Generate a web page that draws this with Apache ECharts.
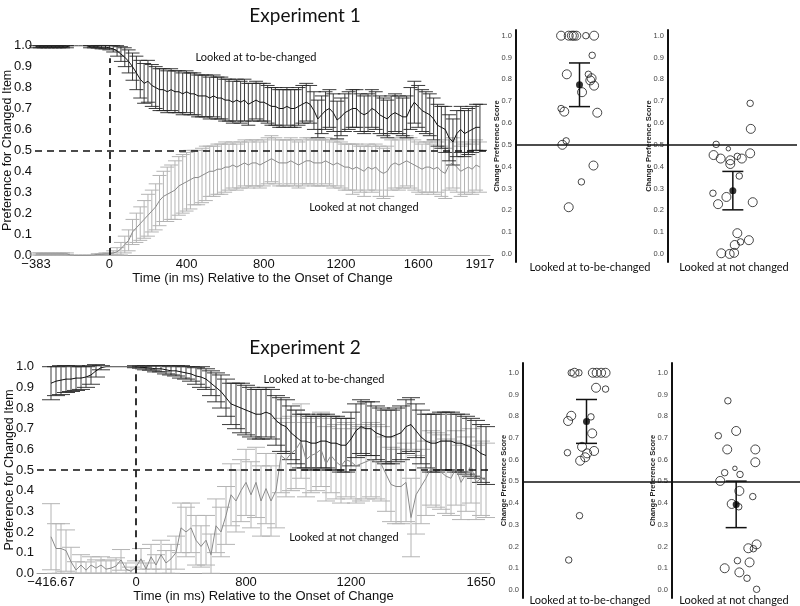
<!DOCTYPE html>
<html><head><meta charset="utf-8">
<script src="https://cdn.jsdelivr.net/npm/echarts@6/dist/echarts.min.js"></script>
<style>html,body{margin:0;padding:0;background:#fff}#c{width:800px;height:606px}</style>
</head><body><div id="c"></div>
<script>
// ---------- Experiment 1 time course (20 ms bins from -383 ms) ----------
const e1TickIdx = [0,19,39,59,79,99,115];
const e1TickText = ['\u2212383','0','400','800','1200','1600','1917'];
const e1BlackMean = [0.995,0.995,0.995,0.995,0.995,0.995,0.995,0.995,0.995,1,1,1,1,1,0.995,0.995,0.995,0.993,0.993,
 0.99,0.985,0.975,0.96,0.945,0.925,0.90,0.87,0.84,0.82,
 0.83,0.81,0.80,0.79,0.79,0.78,0.79,0.78,0.78,0.77,
 0.78,0.77,0.77,0.76,0.76,0.76,0.75,0.76,0.75,0.75,
 0.74,0.74,0.73,0.74,0.73,0.74,0.72,0.73,0.74,0.73,
 0.73,0.72,0.71,0.71,0.70,0.70,0.71,0.70,0.70,0.71,
 0.72,0.73,0.72,0.69,0.65,0.67,0.69,0.70,0.68,0.645,
 0.66,0.68,0.69,0.70,0.70,0.68,0.67,0.68,0.70,0.69,
 0.67,0.66,0.65,0.67,0.68,0.67,0.66,0.66,0.70,0.73,
 0.71,0.69,0.68,0.67,0.65,0.62,0.61,0.60,0.56,0.54,
 0.58,0.60,0.58,0.59,0.60,0.61,0.61];
const e1BlackErr = [0.005,0.005,0.005,0.005,0.005,0.005,0.005,0.005,0.005,0,0,0,0,0,0.005,0.005,0.006,0.008,0.008,
 0.01,0.015,0.025,0.035,0.045,0.055,0.065,0.08,0.09,0.095,
 0.10,0.10,0.10,0.10,0.10,0.10,0.10,0.10,0.10,0.10,
 0.10,0.10,0.10,0.10,0.10,0.10,0.10,0.10,0.10,0.10,
 0.10,0.10,0.10,0.10,0.10,0.10,0.10,0.09,0.09,0.09,
 0.09,0.09,0.09,0.09,0.09,0.09,0.09,0.09,0.09,0.09,
 0.09,0.09,0.09,0.09,0.09,0.09,0.09,0.09,0.09,0.09,
 0.09,0.09,0.09,0.09,0.09,0.09,0.09,0.09,0.09,0.09,
 0.09,0.09,0.09,0.09,0.09,0.09,0.09,0.10,0.10,0.10,
 0.10,0.10,0.10,0.10,0.10,0.10,0.10,0.11,0.11,0.11,
 0.11,0.11,0.11,0.11,0.11,0.11,0.11];
const e1GrayMean = [0.005,0.005,0.005,0.005,0.005,0.005,0.005,0.005,0.005,0,0,0,0,0,0,0,0.003,0.003,0.005,
 0.005,0.01,0.015,0.03,0.05,0.07,0.11,0.13,0.15,0.17,
 0.19,0.21,0.23,0.26,0.28,0.29,0.30,0.31,0.33,0.34,
 0.35,0.36,0.37,0.37,0.38,0.39,0.40,0.40,0.41,0.41,
 0.42,0.42,0.43,0.42,0.43,0.44,0.43,0.44,0.44,0.43,
 0.44,0.45,0.46,0.45,0.44,0.44,0.44,0.45,0.44,0.43,
 0.44,0.45,0.45,0.44,0.44,0.44,0.45,0.44,0.43,0.44,
 0.43,0.42,0.42,0.41,0.42,0.41,0.40,0.42,0.41,0.42,
 0.40,0.39,0.40,0.43,0.44,0.43,0.44,0.45,0.44,0.43,
 0.42,0.41,0.42,0.42,0.41,0.42,0.40,0.39,0.43,0.44,
 0.42,0.40,0.41,0.42,0.41,0.43,0.42];
const e1GrayErr = [0.005,0.005,0.005,0.005,0.005,0.005,0.005,0.005,0.005,0,0,0,0,0,0,0,0.003,0.003,0.005,
 0.005,0.01,0.02,0.03,0.04,0.05,0.06,0.07,0.08,0.09,
 0.10,0.10,0.11,0.12,0.12,0.13,0.13,0.14,0.14,0.14,
 0.14,0.14,0.13,0.13,0.13,0.13,0.12,0.12,0.12,0.12,
 0.12,0.11,0.11,0.11,0.11,0.11,0.11,0.11,0.11,0.11,
 0.11,0.11,0.11,0.11,0.11,0.11,0.11,0.11,0.11,0.11,
 0.11,0.11,0.11,0.11,0.11,0.11,0.11,0.11,0.11,0.11,
 0.11,0.11,0.11,0.12,0.11,0.11,0.12,0.11,0.11,0.11,
 0.12,0.12,0.12,0.12,0.12,0.12,0.12,0.12,0.12,0.12,
 0.12,0.12,0.12,0.12,0.12,0.12,0.12,0.12,0.12,0.12,
 0.12,0.12,0.12,0.12,0.12,0.12,0.12];

// ---------- Experiment 2 time course ----------
const e2TickIdx = [0,17,39,60,86];
const e2TickText = ['\u2212416.67','0','800','1200','1650'];
const e2BlackMean = [0.92,0.93,0.935,0.94,0.94,0.945,0.945,0.95,0.96,0.98,0.995,
 1,1,1,1,1,1,
 1.0,0.998,0.995,0.993,0.99,0.99,0.985,0.98,0.98,0.975,
 0.97,0.965,0.955,0.95,0.94,0.92,0.90,0.88,0.85,0.82,
 0.81,0.80,0.79,0.78,0.77,0.77,0.78,0.77,0.74,0.72,
 0.71,0.68,0.66,0.64,0.64,0.63,0.63,0.64,0.64,0.63,
 0.63,0.62,0.62,0.65,0.69,0.71,0.70,0.70,0.68,0.67,
 0.66,0.66,0.67,0.68,0.71,0.72,0.69,0.66,0.64,0.63,
 0.63,0.64,0.64,0.64,0.63,0.63,0.62,0.61,0.60,0.58,0.57];
const e2BlackErr = [0.08,0.07,0.07,0.065,0.06,0.06,0.055,0.05,0.045,0.03,0.01,
 0,0,0,0,0,0,
 0.005,0.005,0.01,0.01,0.015,0.015,0.02,0.02,0.025,0.03,
 0.03,0.035,0.04,0.05,0.05,0.06,0.07,0.08,0.09,0.10,
 0.11,0.12,0.12,0.12,0.12,0.12,0.12,0.12,0.12,0.13,
 0.13,0.13,0.13,0.13,0.13,0.13,0.13,0.13,0.13,0.13,
 0.13,0.13,0.13,0.13,0.13,0.13,0.13,0.13,0.13,0.13,
 0.13,0.13,0.13,0.13,0.13,0.13,0.13,0.13,0.13,0.14,
 0.14,0.14,0.14,0.14,0.14,0.14,0.14,0.14,0.14,0.14,0.14];
const e2GrayMean = [0.177,0.12,0.12,0.11,0.056,0.016,0.04,0.015,0.04,0.025,0.04,0.02,0.025,0.035,0.065,0.02,0.01,
 0.03,0.07,0.02,0.08,0.04,0.09,0.05,0.07,0.10,0.22,
 0.20,0.22,0.16,0.13,0.16,0.09,0.23,0.20,0.28,0.38,
 0.35,0.40,0.44,0.38,0.44,0.35,0.41,0.35,0.40,0.57,
 0.55,0.58,0.60,0.64,0.55,0.57,0.58,0.60,0.53,0.57,
 0.54,0.52,0.55,0.54,0.52,0.53,0.54,0.55,0.54,0.53,
 0.48,0.43,0.42,0.42,0.44,0.27,0.38,0.42,0.46,0.51,
 0.50,0.49,0.47,0.46,0.51,0.44,0.48,0.52,0.44,0.46,0.45];
const e2GrayErr = [0.16,0.12,0.12,0.10,0.07,0.04,0.05,0.04,0.04,0.04,0.04,0.04,0.04,0.04,0.05,0.03,0.02,
 0.03,0.05,0.03,0.06,0.05,0.07,0.06,0.07,0.08,0.12,
 0.12,0.12,0.12,0.10,0.12,0.10,0.13,0.12,0.14,0.15,
 0.15,0.15,0.16,0.16,0.17,0.17,0.17,0.17,0.18,0.18,
 0.18,0.18,0.19,0.18,0.18,0.18,0.18,0.18,0.18,0.18,
 0.18,0.18,0.18,0.18,0.18,0.18,0.18,0.18,0.18,0.18,
 0.18,0.18,0.18,0.18,0.19,0.19,0.19,0.18,0.18,0.18,
 0.18,0.18,0.18,0.18,0.18,0.18,0.18,0.18,0.18,0.18,0.18];

// ---------- Participant change preference scores (jitter = horizontal spread, weight = trial count class) ----------
const e1ChangedScore  = [1,1,1,1,1,1,1,0.91,0.823,0.823,0.805,0.795,0.771,0.741,0.666,0.652,0.647,0.518,0.50,0.405,0.33,0.214];
const e1ChangedJitter = [-0.29,-0.17,-0.12,-0.09,-0.05,0.10,0.23,0.20,-0.20,0.14,0.19,0.17,0.23,0.04,-0.29,-0.24,0.28,-0.21,-0.27,0.22,0.03,-0.17];
const e1ChangedWeight = [3,3,3,3,3,2,3,2,3,2,3,3,3,3,2,3,3,2,3,3,2,3];
const e1NotScore  = [0.69,0.573,0.502,0.482,0.453,0.437,0.429,0.412,0.447,0.437,0.461,0.357,0.278,0.261,0.228,0.237,0.095,0.063,0.055,0.041,0.003,0.0,0.005];
const e1NotJitter = [0.27,0.28,-0.26,-0.07,-0.30,-0.19,-0.04,-0.04,0.07,0.14,0.27,0.10,-0.31,-0.10,-0.23,0.31,0.07,0.25,0.12,0.03,-0.18,-0.05,0.02];
const e1NotWeight = [2,3,2,1,3,3,3,3,2,3,3,2,2,3,3,3,3,3,2,3,3,3,3];
const e2ChangedScore  = [1,1,1,1,1,1,1,0.931,0.925,0.802,0.778,0.797,0.721,0.659,0.632,0.64,0.629,0.611,0.595,0.342,0.138];
const e2ChangedJitter = [-0.24,-0.19,-0.12,0.10,0.16,0.23,0.30,0.15,0.30,-0.24,-0.29,0.07,0.09,-0.07,-0.30,0.12,0.01,-0.02,-0.10,-0.11,-0.28];
const e2ChangedWeight = [2,3,2,3,3,3,3,3,2,3,3,2,3,3,2,3,3,3,3,2,2];
const e2NotScore  = [0.871,0.71,0.732,0.647,0.647,0.588,0.56,0.54,0.532,0.502,0.456,0.43,0.396,0.383,0.21,0.192,0.19,0.135,0.127,0.10,0.081,0.054,0.003];
const e2NotJitter = [-0.13,-0.28,0.0,-0.14,0.30,0.30,-0.02,-0.18,0.06,-0.25,0.05,0.26,-0.07,0.04,0.32,0.19,0.27,0.02,0.21,-0.18,0.05,0.17,0.32];
const e2NotWeight = [2,2,3,3,3,3,1,2,2,3,3,2,3,2,3,3,2,2,3,3,3,2,2];
// group means and half-width of the error bars: [to-be-changed, not changed]
const e1GroupMean = [0.775, 0.29];
const e1GroupErr  = [0.10, 0.088];
const e2GroupMean = [0.776, 0.394];
const e2GroupErr  = [0.101, 0.107];

// ---------- helpers ----------
const SANS = 'Liberation Sans';
const CAL = 'Lato';
const sizeOf = {1: 4.5, 2: 6.5, 3: 9};
function errData(mean, err){ return mean.map((v,i)=>[i, v, err[i]]); }
function lineData(mean){ return mean.map((v,i)=>[i, v]); }
function errRender(capW, color, lw){
  return function(params, api){
    const x = api.value(0), m = api.value(1), e = api.value(2);
    if (!(e > 0)) return null;
    const hi = api.coord([x, m + e]);
    const lo = api.coord([x, Math.max(0, m - e)]);
    const st = {stroke: color, lineWidth: lw, fill: null};
    return {type:'group', children:[
      {type:'line', shape:{x1:hi[0], y1:hi[1], x2:lo[0], y2:lo[1]}, style:st},
      {type:'line', shape:{x1:hi[0]-capW/2, y1:hi[1], x2:hi[0]+capW/2, y2:hi[1]}, style:st},
      {type:'line', shape:{x1:lo[0]-capW/2, y1:lo[1], x2:lo[0]+capW/2, y2:lo[1]}, style:st}
    ]};
  };
}
function tickFmt(idx, txt){ return v => { const k = idx.indexOf(Math.round(v)); return k >= 0 ? txt[k] : ''; }; }
const stripTicks = [0,0.1,0.2,0.3,0.4,0.5,0.6,0.7,0.8,0.9,1.0];

function timeX(grid, min, max, idx, txt, gap){
  return {gridIndex:grid, type:'value', min:min, max:max,
    axisLine:{show:true, onZero:false, lineStyle:{color:'#9a9a9a', width:1}},
    axisTick:{show:false}, splitLine:{show:false},
    axisLabel:{customValues: idx, formatter: tickFmt(idx, txt), fontFamily:SANS, fontSize:13, color:'#111', margin:3},
    name:'Time (in ms) Relative to the Onset of Change', nameLocation:'middle', nameGap:gap,
    nameTextStyle:{fontFamily:SANS, fontSize:13, color:'#111'}};
}
function timeY(grid){
  return {gridIndex:grid, type:'value', min:0, max:1, interval:0.1,
    axisLine:{show:false, onZero:false}, axisTick:{show:false}, splitLine:{show:false},
    axisLabel:{formatter: v => v.toFixed(1), fontFamily:SANS, fontSize:13, color:'#111', margin:3},
    name:'Preference for Changed Item', nameLocation:'middle', nameRotate:90, nameGap:21, nameMoveOverlap:false,
    nameTextStyle:{fontFamily:SANS, fontSize:12.5, color:'#111'}};
}
function stripX(grid, min, max){
  return {gridIndex:grid, type:'value', min:min, max:max, show:false, splitLine:{show:false}};
}
function stripY(grid, min, max, offset){
  return {gridIndex:grid, type:'value', min:min, max:max, offset:offset,
    axisLine:{show:true, onZero:false, lineStyle:{color:'#111', width:2}},
    axisTick:{show:false}, splitLine:{show:false},
    axisLabel:{customValues: stripTicks, formatter: v => v.toFixed(1), fontFamily:SANS, fontSize:7.5, color:'#444', margin:4},
    name:'Change Preference Score', nameLocation:'middle', nameRotate:90, nameGap:15, nameMoveOverlap:false,
    nameTextStyle:{fontFamily:SANS, fontSize:7.5, fontWeight:'bold', color:'#222'}};
}
function timeSeries(ax, blackM, blackE, grayM, grayE, cap, onset, vTop){
  return [
    {type:'custom', xAxisIndex:ax, yAxisIndex:ax, renderItem: errRender(cap, '#b4b4b4', 1), data: errData(grayM, grayE), encode:{x:0, y:1}, silent:true, z:2},
    {type:'custom', xAxisIndex:ax, yAxisIndex:ax, renderItem: errRender(cap, '#262626', 0.9), data: errData(blackM, blackE), encode:{x:0, y:1}, silent:true, z:3},
    {type:'line', xAxisIndex:ax, yAxisIndex:ax, data: lineData(grayM), symbol:'none', lineStyle:{color:'#8a8a8a', width:1}, silent:true, z:4,
      markLine:{silent:true, symbol:'none', label:{show:false}, lineStyle:{type:[7,5], color:'#111', width:1.7},
        data:[{yAxis:0.5}, [{coord:[onset,0]},{coord:[onset,vTop]}]]}},
    {type:'line', xAxisIndex:ax, yAxisIndex:ax, data: lineData(blackM), symbol:'none', lineStyle:{color:'#111', width:1}, silent:true, z:5}
  ];
}
function stripSeries(ax, score, jitter, weight, mean, err){
  return [
    {type:'scatter', xAxisIndex:ax, yAxisIndex:ax, data: score.map((s,i)=>[jitter[i], s, weight[i]]),
      symbolSize: v => sizeOf[v[2]], itemStyle:{color:'rgba(255,255,255,0)', borderColor:'#1a1a1a', borderWidth:1}, silent:true, z:3,
      markLine:{silent:true, symbol:'none', label:{show:false}, lineStyle:{type:'solid', color:'#111', width:1.6}, data:[{yAxis:0.5}]}},
    {type:'custom', xAxisIndex:ax, yAxisIndex:ax, renderItem: errRender(21, '#111', 1.5), data:[[0, mean, err]], encode:{x:0, y:1}, silent:true, z:4},
    {type:'scatter', xAxisIndex:ax, yAxisIndex:ax, data:[[0, mean]], symbolSize:7, itemStyle:{color:'#000'}, silent:true, z:5}
  ];
}
function txt(t, x, y, size){
  return {type:'text', x:x, y:y, silent:true, style:{text:t, fill:'#111', font: size + 'px ' + CAL, textAlign:'center', textVerticalAlign:'middle', align:'center', verticalAlign:'middle'}};
}

const e1Onset = e1TickIdx[e1TickText.indexOf('0')];
const e2Onset = e2TickIdx[e2TickText.indexOf('0')];

const option = {
  animation:false,
  backgroundColor:'#fff',
  grid:[
    {left:35, top:45.7, width:455, height:209.3, outerBoundsMode:'none'},
    {left:516, top:30, width:127, height:232, outerBoundsMode:'none'},
    {left:643, top:30, width:154, height:232, outerBoundsMode:'none'},
    {left:37, top:366.7, width:453, height:206.6, outerBoundsMode:'none'},
    {left:523, top:363, width:127, height:235, outerBoundsMode:'none'},
    {left:650, top:363, width:150, height:235, outerBoundsMode:'none'}
  ],
  xAxis:[
    timeX(0, -0.26, 117.6, e1TickIdx, e1TickText, 16),
    stripX(1, -1, 1),
    stripX(2, -1.4, 1.0),
    timeX(3, -2.8, 87.8, e2TickIdx, e2TickText, 16),
    stripX(4, -1, 1),
    stripX(5, -1.35, 1.0)
  ],
  yAxis:[
    timeY(0),
    stripY(1, -0.037, 1.026, 0),
    stripY(2, -0.037, 1.026, -25),
    timeY(3),
    stripY(4, -0.037, 1.045, 0),
    stripY(5, -0.037, 1.045, -22)
  ],
  series:[].concat(
    timeSeries(0, e1BlackMean, e1BlackErr, e1GrayMean, e1GrayErr, 14, e1Onset, 0.94),
    stripSeries(1, e1ChangedScore, e1ChangedJitter, e1ChangedWeight, e1GroupMean[0], e1GroupErr[0]),
    stripSeries(2, e1NotScore, e1NotJitter, e1NotWeight, e1GroupMean[1], e1GroupErr[1]),
    timeSeries(3, e2BlackMean, e2BlackErr, e2GrayMean, e2GrayErr, 18, e2Onset, 0.99),
    stripSeries(4, e2ChangedScore, e2ChangedJitter, e2ChangedWeight, e2GroupMean[0], e2GroupErr[0]),
    stripSeries(5, e2NotScore, e2NotJitter, e2NotWeight, e2GroupMean[1], e2GroupErr[1])
  ),
  graphic:[
    txt('Experiment 1', 305, 16, 19),
    txt('Experiment 2', 305, 348, 19),
    txt('Looked at to-be-changed', 256, 57, 11),
    txt('Looked at not changed', 364, 207, 11),
    txt('Looked at to-be-changed', 324, 379, 11),
    txt('Looked at not changed', 344, 537, 11),
    txt('Looked at to-be-changed', 590, 267, 11),
    txt('Looked at not changed', 734, 267, 11),
    txt('Looked at to-be-changed', 590, 600, 11),
    txt('Looked at not changed', 734, 600, 11)
  ]
};
const chart = echarts.init(document.getElementById('c'), null, {renderer:'canvas'});
chart.setOption(option);
</script></body></html>
